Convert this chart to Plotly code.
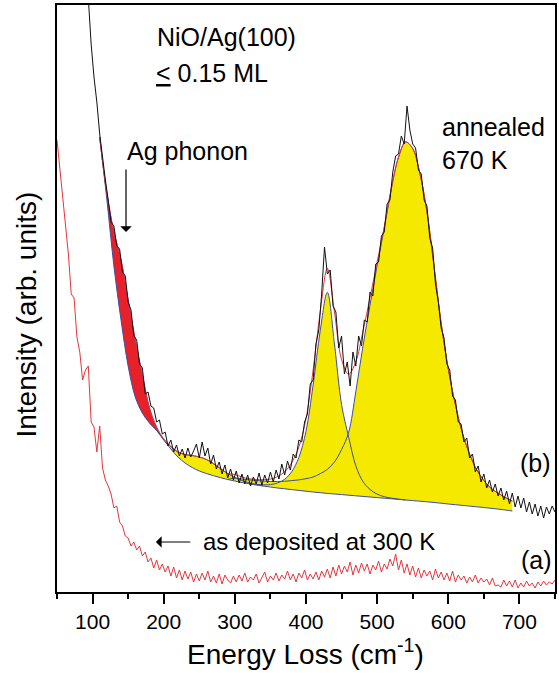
import plotly.graph_objects as go

# ---------------- data ----------------
# (b) annealed 670 K : measured spectrum, every 4 cm-1 from 90 to 750
b_x = list(range(90, 751, 4))
b_y = [640, 590, 548, 515, 490, 458, 432, 412, 392, 370,
       366, 346, 343, 320, 316, 290, 282, 256, 252, 228,
       224, 198, 200, 186, 184, 170, 172, 158, 160, 146,
       152, 140, 147, 136, 143, 134, 144, 135, 141, 148,
       134, 150, 136, 144, 128, 137, 123, 130, 118, 127,
       114, 123, 112, 121, 109, 118, 108, 117, 106, 115,
       108, 119, 107, 117, 109, 120, 110, 122, 113, 128,
       117, 131, 122, 138, 134, 152, 150, 170, 178, 208,
       212, 248, 262, 298, 345, 318, 322, 286, 280, 244,
       256, 218, 230, 206, 240, 226, 256, 246, 272, 270,
       300, 296, 328, 330, 356, 360, 388, 392, 420, 436,
       438, 456, 448, 486, 462, 448, 444, 422, 418, 392,
       386, 354, 344, 308, 290, 264, 254, 228, 222, 196,
       192, 170, 168, 150, 154, 134, 138, 120, 126, 110,
       118, 104, 112, 100, 108, 96, 104, 92, 101, 88,
       99, 85, 96, 84, 94, 80, 90, 78, 88, 76,
       86, 74, 85, 78, 86, 80]

# (a) as deposited at 300 K, every 4 cm-1 from 50 to 750
a_x = list(range(50, 751, 4))
a_y = [452, 425, 398, 368, 338, 298, 294, 255, 240, 212,
       222, 226, 170, 165, 140, 166, 124, 112, 106, 98,
       84, 86, 70, 66, 56, 54, 46, 50, 42, 46,
       36, 40, 30, 34, 24, 32, 22, 28, 20, 26,
       16, 25, 14, 22, 12, 21, 13, 20, 10, 18,
       11, 19, 12, 21, 10, 16, 9, 18, 8, 17,
       12, 9, 16, 10, 17, 11, 19, 10, 15, 12,
       18, 9, 14, 20, 10, 16, 12, 19, 11, 17,
       13, 21, 12, 18, 10, 19, 14, 22, 12, 18,
       13, 20, 12, 21, 15, 23, 14, 25, 16, 27,
       18, 26, 20, 30, 17, 27, 19, 29, 21, 28,
       18, 27, 22, 31, 20, 28, 23, 33, 26, 38,
       22, 32, 19, 28, 17, 26, 15, 24, 14, 22,
       16, 21, 12, 23, 14, 20, 12, 19, 11, 21,
       10, 17, 12, 16, 9, 15, 10, 17, 9, 14,
       10, 13, 7, 14, 6, 7, 5, 12, 6, 11,
       5, 12, 4, 9, 5, 11, 6, 9, 4, 10,
       6, 11, 7, 10, 8, 12]

# fit: background and components (sampled every 10 cm-1)
fit_x = list(range(110, 700, 10))
baseline = [455, 393, 326, 272, 226, 195, 179, 169, 161.5, 152,
            143, 135, 129, 124.5, 121, 118.5, 116.3, 114.3, 112.5, 111,
            109.5, 108.2, 107, 106, 105, 104, 103.2, 102.4, 101.6, 100.8,
            100, 99.3, 98.6, 98, 97.4, 96.8, 96.2, 95.6, 95, 94.4,
            93.8, 93.2, 92.6, 92, 91.4, 90.8, 90.2, 89.5, 88.8, 88,
            87.3, 86.6, 85.9, 85.2, 84.5, 83.7, 82.9, 82, 81]
peak_ag = [0, 6, 34, 60, 66, 57, 38, 15, 3, 0] + [0] * 49
peak_250 = [0] * 8 + [0.5, 1, 2.5, 5, 8.5, 12, 14, 14, 12, 9, 6, 3.5, 2, 1, 0.5, 0] + [0] * 35
peak_430 = [0] * 22 + [0.6, 1.2, 2.4, 5, 9.5, 18, 33, 60, 107, 162, 201, 150, 90, 58, 30,
                       15, 7.5, 3.5, 1.5, 0.7, 0.3, 0] + [0] * 15
peak_540 = [0] * 19 + [3, 3.5, 4, 4.5, 5, 5.5, 6.5, 7.5, 9, 10.5,
                       12.5, 15, 19, 24, 32, 45, 63, 104, 150, 192,
                       232, 270, 310, 342, 358, 352, 328, 290, 236, 180,
                       135, 100, 72, 52, 37, 27, 20, 16, 12.5, 10]

# ---------------- styles ----------------
FONT = "Liberation Sans, Arial, sans-serif"
YEL = "#f5e900"
REDF = "#e8202a"
BLUE = "#3c4fa3"
REDL = "#e8343a"

fig = go.Figure()


def seg(p):
    idx = [i for i, v in enumerate(p) if v > 0]
    return max(idx[0] - 1, 0), min(idx[-1] + 1, len(p) - 1)


comps = [(peak_ag, REDF), (peak_250, YEL), (peak_430, YEL), (peak_540, YEL)]
for p, col in comps:
    lo, hi = seg(p)
    xs = fit_x[lo:hi + 1]
    base = baseline[lo:hi + 1]
    top = [b + v for b, v in zip(base, p[lo:hi + 1])]
    fig.add_trace(go.Scatter(x=xs, y=base, mode="lines",
                             line=dict(width=0, shape="spline"), hoverinfo="skip"))
    fig.add_trace(go.Scatter(x=xs, y=top, mode="lines", fill="tonexty", fillcolor=col,
                             line=dict(width=0, shape="spline"), hoverinfo="skip"))

# blue component lines
fig.add_trace(go.Scatter(x=fit_x, y=baseline, mode="lines",
                         line=dict(color=BLUE, width=1, shape="spline")))
for p, _ in comps:
    lo, hi = seg(p)
    xs = fit_x[lo:hi + 1]
    top = [b + v for b, v in zip(baseline[lo:hi + 1], p[lo:hi + 1])]
    fig.add_trace(go.Scatter(x=xs, y=top, mode="lines",
                             line=dict(color=BLUE, width=1, shape="spline")))

# total fit
total = [baseline[i] + peak_ag[i] + peak_250[i] + peak_430[i] + peak_540[i]
         for i in range(len(fit_x))]
fig.add_trace(go.Scatter(x=fit_x, y=total, mode="lines",
                         line=dict(color=REDL, width=1, shape="spline")))

# measured spectra
fig.add_trace(go.Scatter(x=b_x, y=b_y, mode="lines", line=dict(color="#111111", width=1)))
fig.add_trace(go.Scatter(x=a_x, y=a_y, mode="lines", line=dict(color=REDL, width=1)))

# ---------------- annotations ----------------
ann = []


def label(x, y, text, size=25):
    ann.append(dict(x=x, y=y, xref="x", yref="y", text=text, showarrow=False,
                    xanchor="left", yanchor="middle", font=dict(family=FONT, size=size, color="black")))


label(188, 555, "NiO/Ag(100)")
label(186.5, 519, "<u>&lt;</u> 0.15 ML")
label(146, 441, "Ag phonon")
label(588, 465, "annealed")
label(588, 432, "670 K")
label(697.5, 129, "(b)")
label(699, 32, "(a)")
label(252, 51, "as deposited at 300 K", size=24)

ann.append(dict(x=147, y=360, ax=147, ay=424, xref="x", yref="y", axref="x", ayref="y",
                text="", showarrow=True, arrowhead=1, arrowsize=1.6, arrowwidth=1.2,
                arrowcolor="black"))
ann.append(dict(x=189, y=50, ax=239.5, ay=50, xref="x", yref="y", axref="x", ayref="y",
                text="", showarrow=True, arrowhead=1, arrowsize=1.6, arrowwidth=1.2,
                arrowcolor="black"))

ann.append(dict(x=0.499, y=-0.1022, xref="paper", yref="paper",
                text="Energy Loss (cm<sup>-1</sup>)", showarrow=False,
                xanchor="center", yanchor="middle", font=dict(family=FONT, size=28, color="black")))
ann.append(dict(x=-0.061, y=0.472, xref="paper", yref="paper",
                text="Intensity (arb. units)", showarrow=False, textangle=-90,
                xanchor="center", yanchor="middle", font=dict(family=FONT, size=28, color="black")))

fig.update_layout(
    width=559, height=673,
    margin=dict(l=57, r=2, t=5, b=81),
    paper_bgcolor="white", plot_bgcolor="white",
    showlegend=False,
    annotations=ann,
    xaxis=dict(range=[50, 750], tickvals=[100, 200, 300, 400, 500, 600, 700],
               ticks="outside", ticklen=10, tickwidth=2, tickcolor="black",
               minor=dict(tickvals=[50, 150, 250, 350, 450, 550, 650, 750],
                          ticks="outside", ticklen=5, tickwidth=2, tickcolor="black"),
               showline=True, linewidth=2, linecolor="black", mirror=True,
               showgrid=False, zeroline=False,
               tickfont=dict(family=FONT, size=21, color="black")),
    yaxis=dict(range=[0, 587], showticklabels=False, ticks="",
               showline=True, linewidth=2, linecolor="black", mirror=True,
               showgrid=False, zeroline=False),
)

fig.write_html("out.html")
